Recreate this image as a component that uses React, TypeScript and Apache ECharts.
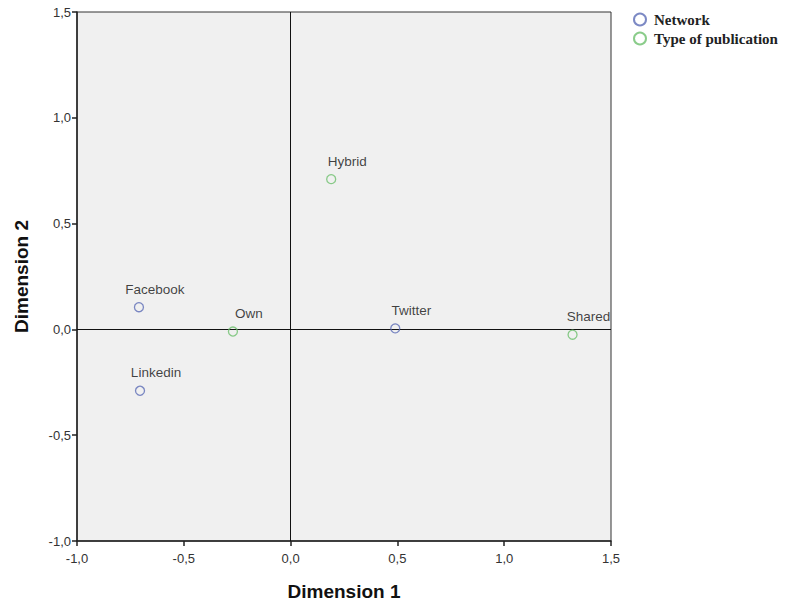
import React, { useEffect, useRef } from "react";
import * as echarts from "echarts";

const networkNames = ["Facebook", "Linkedin", "Twitter"];
const networkX = [-0.71, -0.705, 0.49];
const networkY = [0.105, -0.29, 0.005];

const pubNames = ["Own", "Hybrid", "Shared"];
const pubX = [-0.27, 0.19, 1.32];
const pubY = [-0.01, 0.71, -0.025];

const seriesNames = ["Network", "Type of publication"];
const seriesColors = ["#5b6cb5", "#6dbf6d"];

const fmt = (v: number) => v.toFixed(1).replace(".", ",");

export default function App() {
  const ref = useRef<HTMLDivElement>(null);
  useEffect(() => {
    if (!ref.current) return;
    const chart = echarts.init(ref.current, undefined, { renderer: "svg" });
    const mk = (names: string[], xs: number[], ys: number[]) =>
      names.map((n, i) => ({ name: n, value: [xs[i], ys[i]] }));
    const labelCfg = {
      show: true,
      position: "top",
      distance: 6,
      offset: [16, 0],
      formatter: (p: any) => p.name,
      color: "#111",
      fontSize: 13.5,
      fontFamily: "Liberation Sans, Arial, sans-serif",
    };
    const axisCommon = {
      type: "value",
      min: -1,
      max: 1.5,
      interval: 0.5,
      nameLocation: "middle",
      nameTextStyle: {
        fontFamily: "Liberation Sans, Arial, sans-serif",
        fontWeight: "bold",
        fontSize: 19,
        color: "#111",
      },
      axisLine: { show: true, onZero: false, lineStyle: { color: "#222", width: 1.5 } },
      axisTick: { show: true, length: 5, lineStyle: { color: "#222", width: 1.5 } },
      splitLine: { show: false },
    };
    chart.setOption({
      animation: false,
      backgroundColor: "#ffffff",
      grid: {
        left: 77,
        top: 12,
        width: 534,
        height: 529,
        outerBoundsMode: "none",
        containLabel: false,
        show: true,
        backgroundColor: "#f0f0f0",
        borderColor: "#333",
        borderWidth: 1,
      },
      legend: {
        orient: "vertical",
        left: 628,
        top: 7,
        itemWidth: 18,
        itemHeight: 12,
        itemGap: 4,
        textStyle: {
          fontFamily: "Liberation Serif, Times New Roman, serif",
          fontWeight: "bold",
          fontSize: 15,
          color: "#222",
        },
        data: seriesNames,
      },
      xAxis: {
        ...axisCommon,
        name: "Dimension 1",
        nameGap: 41,
        axisLabel: {
          formatter: fmt,
          fontSize: 13,
          color: "#333",
          fontFamily: "Liberation Sans, Arial, sans-serif",
          margin: 11,
        },
      },
      yAxis: {
        ...axisCommon,
        name: "Dimension 2",
        nameGap: 46,
        axisLabel: {
          formatter: fmt,
          fontSize: 13,
          color: "#333",
          fontFamily: "Liberation Sans, Arial, sans-serif",
          margin: 6,
        },
      },
      series: [
        {
          name: seriesNames[0],
          type: "scatter",
          symbol: "circle",
          symbolSize: 9,
          itemStyle: {
            color: "rgba(0,0,0,0)",
            borderColor: seriesColors[0],
            borderWidth: 1.3,
          },
          label: labelCfg,
          data: mk(networkNames, networkX, networkY),
          markLine: {
            silent: true,
            symbol: "none",
            label: { show: false },
            lineStyle: { color: "#111", width: 1, type: "solid" },
            data: [{ xAxis: 0 }, { yAxis: 0 }],
            z: 1,
          },
          z: 3,
        },
        {
          name: seriesNames[1],
          type: "scatter",
          symbol: "circle",
          symbolSize: 9,
          itemStyle: {
            color: "rgba(0,0,0,0)",
            borderColor: seriesColors[1],
            borderWidth: 1.3,
          },
          label: labelCfg,
          data: mk(pubNames, pubX, pubY),
          z: 3,
        },
      ],
    });
    return () => chart.dispose();
  }, []);
  return (
    <div
      ref={ref}
      style={{ position: "fixed", left: 0, top: 0, width: 793, height: 602 }}
    />
  );
}
